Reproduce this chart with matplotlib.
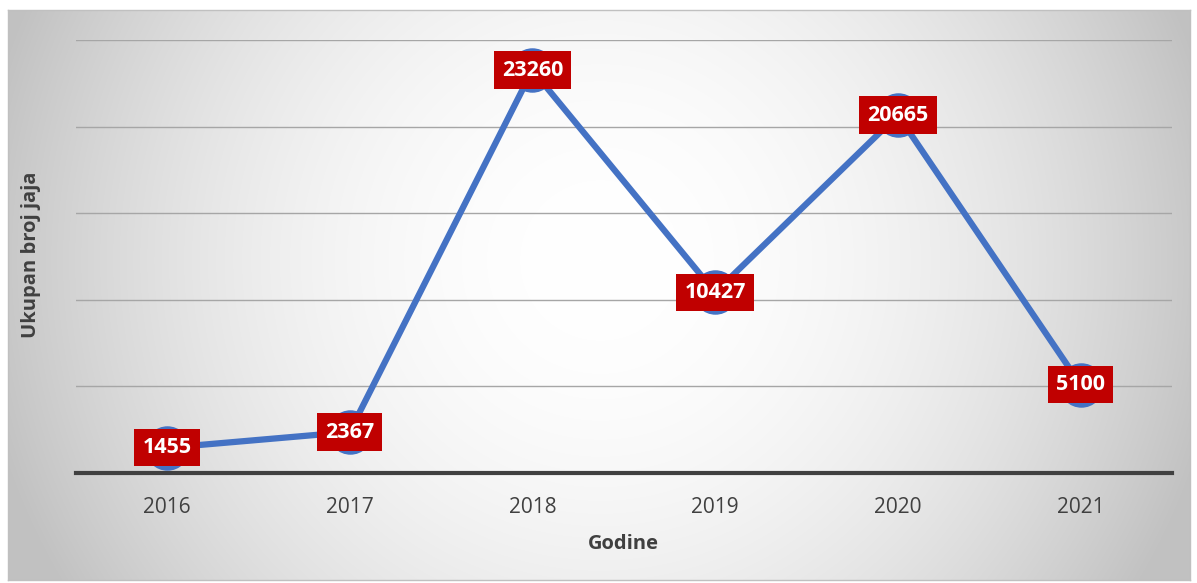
import numpy as np
import matplotlib
matplotlib.use("Agg")
import matplotlib.pyplot as plt

years = ["2016", "2017", "2018", "2019", "2020", "2021"]
values = [1455, 2367, 23260, 10427, 20665, 5100]

W, H = 1197, 583
fig = plt.figure(figsize=(W / 100, H / 100), dpi=100)
fig.patch.set_facecolor("white")

# chart area background with radial gradient
bx0, by0, bx1, by1 = 8, 10, 1190, 580
bg = fig.add_axes([bx0 / W, 1 - by1 / H, (bx1 - bx0) / W, (by1 - by0) / H])
yy, xx = np.mgrid[by0:by1, bx0:bx1]
cx, cy = 600, 260
d2 = ((xx - cx) ** 2 + (yy - cy) ** 2) / 600.0 ** 2
g = np.clip(1 - 0.22 * d2, 0.76, 1)
img = np.dstack([g, g, g])
bg.imshow(img, aspect="auto", extent=[0, 1, 0, 1], interpolation="bilinear")
bg.set_xlim(0, 1)
bg.set_ylim(0, 1)
bg.set_xticks([])
bg.set_yticks([])
for s in bg.spines.values():
    s.set_color("#c0c0c0")
    s.set_linewidth(1)
bg.set_zorder(0)

ax = fig.add_axes([75.5 / W, 110 / H, (1172 - 75.5) / W, 433 / H])
ax.set_facecolor("none")
ax.set_zorder(1)
x = np.arange(len(years))
ax.set_xlim(-0.5, len(years) - 0.5)
ax.set_ylim(0, 25000)
ax.set_yticks(np.arange(0, 25001, 5000))
ax.set_yticklabels([])
ax.tick_params(axis="y", length=0)
ax.tick_params(axis="x", length=0, pad=17, labelsize=15, labelcolor="#404040")
ax.set_xticks(x)
ax.set_xticklabels(years, fontfamily="Open Sans")
ax.grid(axis="y", color="#a6a6a6", linewidth=1)
ax.set_axisbelow(True)
for k in ["top", "right", "left"]:
    ax.spines[k].set_visible(False)
ax.spines["bottom"].set_color("#404040")
ax.spines["bottom"].set_linewidth(3)
ax.spines["bottom"].set_zorder(3)

ax.plot(x, values, color="#4472C4", linewidth=4.5, marker="o", markersize=31,
        markerfacecolor="#4472C4", markeredgecolor="#4472C4", zorder=4, clip_on=False)

for xi, v in zip(x, values):
    ax.text(xi, v, str(v), ha="center", va="center", color="white",
            fontsize=15.5, fontweight="bold", fontfamily="Open Sans", zorder=6,
            bbox=dict(boxstyle="square,pad=0.38", facecolor="#C00000", edgecolor="none"))

ax.set_xlabel("Godine", fontsize=14.5, fontweight="bold", color="#404040",
              fontfamily="Open Sans", labelpad=12)
fig.text(31 / W, 1 - 255 / H, "Ukupan broj jaja", rotation=90, ha="center", va="center",
         fontsize=14.5, fontweight="bold", color="#404040", fontfamily="Open Sans")

fig.savefig("out.png", dpi=100)
